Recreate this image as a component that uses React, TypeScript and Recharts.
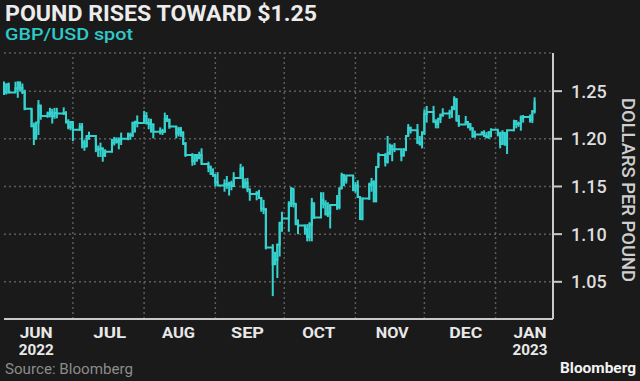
import { ComposedChart, Line, ErrorBar, XAxis, YAxis, CartesianGrid, ReferenceLine } from 'recharts';

// trading days, Jun 2022 - Jan 2023
const dates = [
  '2022-06-01', '2022-06-02', '2022-06-03', '2022-06-06', '2022-06-07', '2022-06-08', '2022-06-09', '2022-06-10', '2022-06-13', '2022-06-14', '2022-06-15', '2022-06-16', '2022-06-17', '2022-06-20', '2022-06-21', '2022-06-22', '2022-06-23', '2022-06-24', '2022-06-27', '2022-06-28', '2022-06-29', '2022-06-30',
  '2022-07-01', '2022-07-04', '2022-07-05', '2022-07-06', '2022-07-07', '2022-07-08', '2022-07-11', '2022-07-12', '2022-07-13', '2022-07-14', '2022-07-15', '2022-07-18', '2022-07-19', '2022-07-20', '2022-07-21', '2022-07-22', '2022-07-25', '2022-07-26', '2022-07-27', '2022-07-28', '2022-07-29',
  '2022-08-01', '2022-08-02', '2022-08-03', '2022-08-04', '2022-08-05', '2022-08-08', '2022-08-09', '2022-08-10', '2022-08-11', '2022-08-12', '2022-08-15', '2022-08-16', '2022-08-17', '2022-08-18', '2022-08-19', '2022-08-22', '2022-08-23', '2022-08-24', '2022-08-25', '2022-08-26', '2022-08-29', '2022-08-30', '2022-08-31',
  '2022-09-01', '2022-09-02', '2022-09-05', '2022-09-06', '2022-09-07', '2022-09-08', '2022-09-09', '2022-09-12', '2022-09-13', '2022-09-14', '2022-09-15', '2022-09-16', '2022-09-19', '2022-09-20', '2022-09-21', '2022-09-22', '2022-09-23', '2022-09-26', '2022-09-27', '2022-09-28', '2022-09-29', '2022-09-30',
  '2022-10-03', '2022-10-04', '2022-10-05', '2022-10-06', '2022-10-07', '2022-10-10', '2022-10-11', '2022-10-12', '2022-10-13', '2022-10-14', '2022-10-17', '2022-10-18', '2022-10-19', '2022-10-20', '2022-10-21', '2022-10-24', '2022-10-25', '2022-10-26', '2022-10-27', '2022-10-28', '2022-10-31',
  '2022-11-01', '2022-11-02', '2022-11-03', '2022-11-04', '2022-11-07', '2022-11-08', '2022-11-09', '2022-11-10', '2022-11-11', '2022-11-14', '2022-11-15', '2022-11-16', '2022-11-17', '2022-11-18', '2022-11-21', '2022-11-22', '2022-11-23', '2022-11-24', '2022-11-25', '2022-11-28', '2022-11-29', '2022-11-30',
  '2022-12-01', '2022-12-02', '2022-12-05', '2022-12-06', '2022-12-07', '2022-12-08', '2022-12-09', '2022-12-12', '2022-12-13', '2022-12-14', '2022-12-15', '2022-12-16', '2022-12-19', '2022-12-20', '2022-12-21', '2022-12-22', '2022-12-23', '2022-12-26', '2022-12-27', '2022-12-28', '2022-12-29', '2022-12-30',
  '2023-01-02', '2023-01-03', '2023-01-04', '2023-01-05', '2023-01-06', '2023-01-09', '2023-01-10', '2023-01-11', '2023-01-12', '2023-01-13', '2023-01-16', '2023-01-17', '2023-01-18',
];

const closes = [
  1.2487, 1.2570, 1.2487, 1.2530, 1.2590, 1.2535, 1.2490, 1.2315, 1.2135, 1.2005, 1.2170, 1.2350, 1.2240, 1.2265, 1.2275, 1.2240, 1.2270, 1.2265, 1.2270, 1.2180, 1.2120, 1.2175,
  1.2095, 1.2125, 1.1960, 1.1920, 1.2030, 1.2030, 1.1890, 1.1890, 1.1900, 1.1825, 1.1865, 1.1955, 1.1990, 1.1970, 1.1990, 1.2000, 1.2040, 1.2035, 1.2165, 1.2175, 1.2165,
  1.2240, 1.2165, 1.2155, 1.2150, 1.2075, 1.2080, 1.2075, 1.2210, 1.2200, 1.2130, 1.2055, 1.2100, 1.2060, 1.1950, 1.1830, 1.1765, 1.1830, 1.1800, 1.1830, 1.1735, 1.1700, 1.1630, 1.1620,
  1.1545, 1.1510, 1.1525, 1.1515, 1.1530, 1.1505, 1.1590, 1.1685, 1.1500, 1.1540, 1.1470, 1.1420, 1.1435, 1.1380, 1.1270, 1.1255, 1.0860, 1.0685, 1.0730, 1.0890, 1.1120, 1.1165,
  1.1320, 1.1475, 1.1320, 1.1105, 1.1090, 1.1055, 1.0970, 1.1100, 1.1325, 1.1175, 1.1360, 1.1320, 1.1205, 1.1220, 1.1305, 1.1285, 1.1480, 1.1620, 1.1565, 1.1615, 1.1465,
  1.1510, 1.1390, 1.1160, 1.1375, 1.1515, 1.1545, 1.1345, 1.1705, 1.1830, 1.1760, 1.1855, 1.1925, 1.1890, 1.1890, 1.1825, 1.1890, 1.2030, 1.2115, 1.2090, 1.1960, 1.1940, 1.2060,
  1.2260, 1.2280, 1.2180, 1.2155, 1.2210, 1.2250, 1.2265, 1.2275, 1.2315, 1.2415, 1.2190, 1.2150, 1.2175, 1.2155, 1.2110, 1.2030, 1.2045, 1.2060, 1.2030, 1.2020, 1.2070, 1.2095,
  1.2050, 1.1945, 1.2060, 1.1940, 1.2090, 1.2185, 1.2155, 1.2160, 1.2220, 1.2230, 1.2200, 1.2290, 1.2390,
];

const highs = [
  1.2600, 1.2580, 1.2590, 1.2599, 1.2600, 1.2598, 1.2580, 1.2515, 1.2315, 1.2170, 1.2170, 1.2406, 1.2350, 1.2285, 1.2325, 1.2315, 1.2325, 1.2325, 1.2330, 1.2290, 1.2205, 1.2180,
  1.2170, 1.2165, 1.2165, 1.1990, 1.2030, 1.2075, 1.2000, 1.1930, 1.1960, 1.1900, 1.1890, 1.2000, 1.2020, 1.2015, 1.2015, 1.2065, 1.2065, 1.2065, 1.2180, 1.2190, 1.2245,
  1.2293, 1.2280, 1.2215, 1.2210, 1.2160, 1.2120, 1.2105, 1.2275, 1.2250, 1.2210, 1.2130, 1.2125, 1.2125, 1.2080, 1.1965, 1.1850, 1.1835, 1.1840, 1.1865, 1.1900, 1.1760, 1.1720, 1.1690,
  1.1620, 1.1650, 1.1575, 1.1610, 1.1550, 1.1560, 1.1650, 1.1738, 1.1710, 1.1585, 1.1590, 1.1470, 1.1450, 1.1465, 1.1385, 1.1360, 1.1275, 1.0895, 1.0815, 1.0900, 1.1125, 1.1235,
  1.1345, 1.1495, 1.1475, 1.1320, 1.1155, 1.1100, 1.1105, 1.1125, 1.1380, 1.1325, 1.1440, 1.1440, 1.1355, 1.1335, 1.1310, 1.1410, 1.1490, 1.1645, 1.1620, 1.1615, 1.1610,
  1.1545, 1.1565, 1.1390, 1.1385, 1.1540, 1.1590, 1.1565, 1.1710, 1.1855, 1.1850, 1.2030, 1.1950, 1.1940, 1.1955, 1.1880, 1.1900, 1.2030, 1.2155, 1.2125, 1.2155, 1.2030, 1.2080,
  1.2310, 1.2345, 1.2345, 1.2205, 1.2215, 1.2265, 1.2320, 1.2305, 1.2345, 1.2446, 1.2425, 1.2250, 1.2240, 1.2180, 1.2160, 1.2120, 1.2085, 1.2080, 1.2090, 1.2070, 1.2080, 1.2110,
  1.2085, 1.2075, 1.2090, 1.2065, 1.2090, 1.2200, 1.2195, 1.2180, 1.2245, 1.2250, 1.2255, 1.2300, 1.2435,
];

const lows = [
  1.2460, 1.2465, 1.2476, 1.2490, 1.2430, 1.2500, 1.2470, 1.2300, 1.2120, 1.1934, 1.1990, 1.2040, 1.2200, 1.2220, 1.2225, 1.2160, 1.2210, 1.2215, 1.2250, 1.2160, 1.2100, 1.2090,
  1.1975, 1.2085, 1.1900, 1.1875, 1.1915, 1.1990, 1.1860, 1.1810, 1.1810, 1.1760, 1.1810, 1.1860, 1.1930, 1.1950, 1.1890, 1.1935, 1.1985, 1.1990, 1.2020, 1.2065, 1.2120,
  1.2165, 1.2150, 1.2100, 1.2065, 1.2005, 1.2045, 1.2040, 1.2065, 1.2175, 1.2105, 1.2005, 1.2025, 1.2020, 1.1935, 1.1810, 1.1717, 1.1725, 1.1760, 1.1785, 1.1735, 1.1650, 1.1625, 1.1600,
  1.1500, 1.1510, 1.1445, 1.1475, 1.1405, 1.1460, 1.1495, 1.1580, 1.1480, 1.1480, 1.1440, 1.1350, 1.1355, 1.1375, 1.1235, 1.1210, 1.0840, 1.0350, 1.0680, 1.0540, 1.0765, 1.1025,
  1.1025, 1.1285, 1.1280, 1.1100, 1.1000, 1.0995, 1.0925, 1.0925, 1.0925, 1.1160, 1.1200, 1.1270, 1.1200, 1.1180, 1.1060, 1.1255, 1.1260, 1.1475, 1.1505, 1.1530, 1.1450,
  1.1435, 1.1380, 1.1150, 1.1145, 1.1360, 1.1445, 1.1335, 1.1335, 1.1710, 1.1710, 1.1740, 1.1830, 1.1765, 1.1860, 1.1765, 1.1815, 1.1870, 1.2030, 1.2055, 1.1945, 1.1935, 1.1900,
  1.2040, 1.2170, 1.2170, 1.2110, 1.2110, 1.2165, 1.2230, 1.2210, 1.2220, 1.2300, 1.2190, 1.2125, 1.2150, 1.2110, 1.2085, 1.2010, 1.2010, 1.2040, 1.2025, 1.2005, 1.2000, 1.2015,
  1.2025, 1.1900, 1.1945, 1.1930, 1.1841, 1.2080, 1.2110, 1.2125, 1.2085, 1.2170, 1.2170, 1.2165, 1.2265,
];

// x axis: days since Jun 1 2022
const monthStarts = ['2022-07-01', '2022-08-01', '2022-09-01', '2022-10-01', '2022-11-01', '2022-12-01', '2023-01-01'];
const monthLabelDates = ['2022-06-15', '2022-07-17', '2022-08-16', '2022-09-15', '2022-10-16', '2022-11-17', '2022-12-19', '2023-01-16'];
const monthLabels = ['JUN', 'JUL', 'AUG', 'SEP', 'OCT', 'NOV', 'DEC', 'JAN'];
const yearLabels = ['2022', '', '', '', '', '', '', '2023'];
const yTicks = [1.05, 1.1, 1.15, 1.2, 1.25];

const DAY = 86400000;
const origin = Date.parse('2022-06-01');
const toDay = (s: string) => Math.round((Date.parse(s) - origin) / DAY);

const data = dates.map((d, i) => ({
  day: toDay(d),
  close: closes[i],
  range: [closes[i] - lows[i], highs[i] - closes[i]],
}));

const monthTicks = monthLabelDates.map(toDay);

const LINE = '#36d2cf';
const GRID = '#5c5c5c';
const AXIS = '#c9c9c9';
const FONT = 'Roboto, "DejaVu Sans", sans-serif';

function MonthTick(props: any) {
  const { x, y, payload } = props;
  const i = monthTicks.indexOf(payload.value);
  return (
    <g transform={`translate(${x},${y})`}>
      <text x={0} y={19} textAnchor="middle" fill="#e8e8e8" fontSize={14.5} fontWeight={700} fontFamily={FONT} textLength={33} lengthAdjust="spacingAndGlyphs">
        {monthLabels[i]}
      </text>
      {yearLabels[i] && (
        <text x={0} y={36} textAnchor="middle" fill="#e8e8e8" fontSize={14.5} fontWeight={700} fontFamily={FONT} textLength={35} lengthAdjust="spacingAndGlyphs">
          {yearLabels[i]}
        </text>
      )}
    </g>
  );
}

export default function App() {
  return (
    <div style={{ position: 'absolute', left: 0, top: 0, width: 640, height: 381, background: '#1a1a1a', overflow: 'hidden' }}>
      <ComposedChart width={640} height={381} data={data} margin={{ top: 53, right: 27, bottom: 12, left: 4 }}>
        <CartesianGrid vertical={false} stroke={GRID} strokeDasharray="2 3" strokeWidth={1.5} />
        {monthStarts.map((m) => (
          <ReferenceLine key={m} x={toDay(m)} stroke={GRID} strokeDasharray="2 3" strokeWidth={1.5} />
        ))}
        <XAxis
          type="number"
          dataKey="day"
          domain={[0, 239]}
          ticks={monthTicks}
          interval={0}
          tick={<MonthTick />}
          tickLine={false}
          tickSize={0}
          tickMargin={0}
          axisLine={{ stroke: AXIS, strokeWidth: 2 }}
          height={50}
        />
        <YAxis
          orientation="right"
          domain={[1.011, 1.29]}
          ticks={yTicks}
          interval={0}
          tickFormatter={(v: number) => v.toFixed(2)}
          tick={{ fill: '#dedede', fontSize: 18, fontWeight: 500, fontFamily: FONT }}
          tickSize={9}
          tickMargin={9}
          tickLine={{ stroke: AXIS, strokeWidth: 2 }}
          axisLine={{ stroke: AXIS, strokeWidth: 2 }}
          width={60}
        />
        <Line
          type="stepAfter"
          dataKey="close"
          stroke={LINE}
          strokeWidth={2}
          dot={false}
          activeDot={false}
          isAnimationActive={false}
        >
          <ErrorBar dataKey="range" direction="y" width={0} stroke={LINE} strokeWidth={2} isAnimationActive={false} />
        </Line>
      </ComposedChart>
      <svg width={640} height={381} style={{ position: 'absolute', left: 0, top: 0, pointerEvents: 'none' }}>
        <text x={5} y={21} fill="#ececec" fontSize={22} fontWeight={700} fontFamily={FONT} textLength={312} lengthAdjust="spacingAndGlyphs">
          POUND RISES TOWARD $1.25
        </text>
        <text x={5} y={40} fill="#2fc9c9" fontSize={17} fontWeight={500} fontFamily={FONT} textLength={128} lengthAdjust="spacingAndGlyphs">
          GBP/USD spot
        </text>
        <text transform="translate(622,98) rotate(90)" fill="#cfcfcf" fontSize={19} fontWeight={500} fontFamily={FONT} textLength={184} lengthAdjust="spacingAndGlyphs">
          DOLLARS PER POUND
        </text>
        <text x={5} y={374} fill="#8c8c8c" fontSize={15} fontFamily={FONT} textLength={128} lengthAdjust="spacingAndGlyphs">
          Source: Bloomberg
        </text>
        <text x={636} y={373} textAnchor="end" fill="#f2f2f2" fontSize={15} fontWeight={700} fontFamily={FONT} textLength={76} lengthAdjust="spacingAndGlyphs">
          Bloomberg
        </text>
      </svg>
    </div>
  );
}
